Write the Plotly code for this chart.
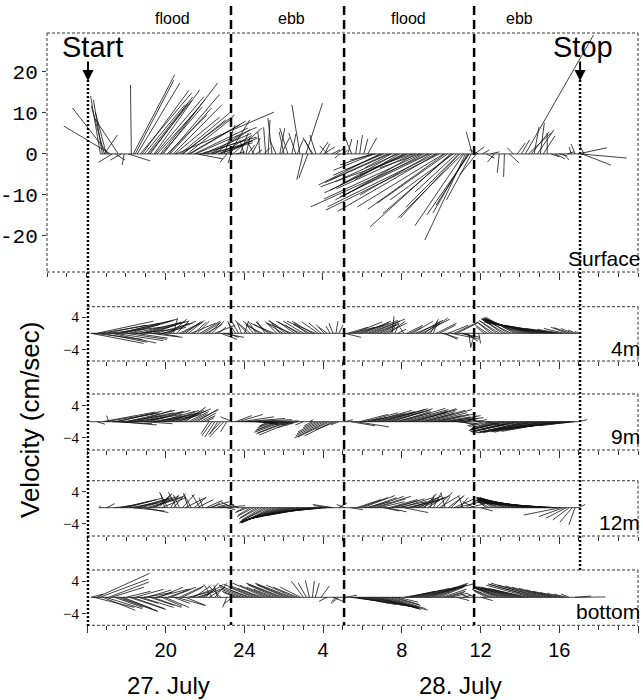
import plotly.graph_objects as go

W, H = 643, 700
K = 0.206  # time-axis hours per cm/s for the horizontal stick component

# ---------------- data (hours counted from 27 July 00:00) ----------------
surf_t = [16.71,16.81,16.91,17.01,17.11,17.22,16.91,17.32,17.47,17.62,17.77,17.92,18.13,18.28,
          18.38,18.58,18.73,18.94,19.09,19.24,19.44,19.59,19.75,19.90,20.10,20.25,20.41,20.56,20.76,20.91,
          21.11,21.27,21.47,21.62,21.77,21.97,22.13,22.33,22.48,22.68,22.84,22.99,23.14,23.24,23.34,23.44,23.59,
          23.80,24.00,24.20,24.41,24.61,24.81,25.01,25.22,25.42,25.62,25.82,26.03,26.23,26.43,26.63,26.84,
          26.99,27.14,27.24,27.44,27.65,27.85,28.05,28.25,28.46,28.66,28.86,29.06,
          29.27,29.47,29.67,29.87,30.08,30.28,30.48,30.68,30.89,31.09,31.29,31.49,31.70,31.90,32.10,32.30,
          32.51,32.71,32.91,33.11,33.32,33.52,33.72,33.92,34.13,34.33,34.48,34.63,34.78,34.94,35.09,35.24,
          35.34,35.44,35.54,35.59,35.70,35.80,35.90,
          36.10,36.30,36.51,36.71,36.96,37.22,37.47,37.67,37.87,38.08,38.28,38.43,38.58,38.73,38.89,39.04,
          39.19,39.39,39.59,39.80,40.00,40.20,40.41,40.61,40.81,40.96,41.06,41.16,41.27,
          18.48,18.83,19.17,19.50,19.83,20.18,20.50,20.84,21.20,21.55,21.90,22.40,22.75,23.05,
          30.60,31.00,31.40,31.80,32.20,32.60,33.00,33.40,33.80,34.20,34.55,34.90,35.15,35.40,
          24.10,24.50,25.10,25.90,26.70,27.50,28.10]
surf_u = [-2.4,-2.2,-3.2,-2.7,-8.8,-11.5,3.2,-3.4,2.4,-5.9,-2.7,-0.5,5.4,-0.2,
          10.2,10.5,12.7,10.0,11.2,9.3,11.2,9.8,11.0,13.4,9.8,10.2,12.0,24.1,12.2,10.5,
          11.2,12.2,13.2,6.3,13.9,10.0,11.2,7.1,8.8,6.6,9.0,2.7,-1.7,5.1,-0.7,7.1,2.2,
          2.0,-1.0,1.7,2.0,1.5,-0.5,1.5,0.5,-1.0,-1.5,1.2,-1.2,-2.0,1.0,-1.7,-2.0,
          -1.5,4.1,-2.2,-1.7,-1.5,2.0,2.7,-2.0,2.0,2.2,-1.2,1.0,
          1.0,-1.7,0.5,0.7,1.0,2.2,-7.8,-6.3,-15.1,-9.5,-14.1,-6.6,-13.7,-11.0,-18.0,-11.7,
          -22.4,-17.3,-9.8,-21.7,-28.8,-17.6,-26.6,-28.0,-21.2,-17.3,-19.8,-15.6,-10.2,-14.6,-15.9,-10.0,
          -8.5,-10.5,-6.1,-1.5,2.4,-4.1,-2.2,
          1.7,2.0,2.2,-1.7,-0.5,-0.2,2.4,-1.5,2.0,2.0,16.8,5.6,4.4,1.2,4.1,1.0,
          2.9,0.0,2.0,2.4,2.0,1.5,1.7,-0.5,-1.0,7.1,11.5,7.1,-1.2,
          9.5,11.5,10.5,12.0,10.0,12.5,11.0,13.0,14.0,15.0,12.0,10.0,8.0,6.0,
          -10.0,-12.0,-16.0,-15.5,-20.0,-19.0,-24.0,-22.0,-24.5,-19.0,-17.0,-13.0,-12.0,-8.0,
          1.0,-1.5,-0.5,2.0,1.5,-2.5,1.2]
surf_v = [14.1,13.2,11.7,10.2,11.2,6.8,4.6,-2.0,-1.5,8.8,-1.5,-2.7,-1.7,16.8,
          19.3,17.3,14.9,12.0,13.9,12.4,15.6,10.7,13.2,17.3,9.5,11.2,12.0,10.2,10.0,8.3,
          8.8,7.1,6.3,-1.2,4.1,3.4,2.7,4.6,5.9,2.2,3.9,7.1,-2.0,8.3,-2.2,6.3,0.5,
          5.1,3.4,2.2,3.9,1.0,5.4,1.5,8.3,8.8,3.4,6.3,5.4,6.3,4.9,5.1,12.0,
          -6.3,12.4,-5.9,3.4,4.6,2.9,1.7,2.0,1.0,1.5,-1.0,1.0,
          3.7,4.1,3.4,4.6,3.7,3.9,-2.7,-1.5,-7.6,-3.9,-6.3,-3.4,-7.6,-6.3,-8.8,-5.1,
          -8.0,-10.0,-3.4,-11.2,-12.9,-10.0,-12.9,-13.7,-12.9,-12.0,-17.8,-11.2,-9.3,-15.6,-15.6,-21.0,
          -14.4,-14.9,-11.2,5.4,1.7,-5.1,1.0,
          1.0,-1.0,0.5,-2.0,-4.6,-5.6,-2.2,1.5,2.7,3.4,29.0,5.1,5.4,6.6,5.9,7.6,
          4.4,5.1,-0.7,-1.2,-0.5,-1.5,0.5,1.7,2.4,1.5,-1.0,-2.7,2.2,
          18.0,15.5,13.0,14.0,11.5,14.5,9.0,9.5,8.0,6.5,5.0,3.2,4.5,3.0,
          -4.0,-5.2,-7.0,-6.8,-9.5,-8.5,-11.0,-10.5,-14.0,-13.5,-14.5,-13.0,-17.5,-12.5,
          4.0,2.8,6.5,4.0,3.5,4.0,2.5]

m4_t = [16.2,16.5,16.8,17.1,17.4,17.7,18.0,18.3,18.6,18.9,19.2,19.5,19.8,20.1,20.4,20.7,21.0,21.3,21.6,21.9,22.2,22.5,22.8,23.1,
        23.4,23.7,24.0,24.3,24.6,24.9,25.2,25.5,25.8,26.1,26.4,26.7,27.0,27.3,27.6,27.9,28.2,28.5,28.8,
        29.1,29.4,29.7,30.0,30.3,30.6,30.9,31.2,31.5,31.8,32.1,32.4,32.7,33.0,33.3,33.6,33.9,34.2,34.5,34.8,35.1,35.4,
        35.7,35.9,36.2,36.5,36.8,37.1,37.4,37.7,38.0,38.3,38.6,38.9,39.2,39.5,39.8,40.1,40.4,40.7,41.0,
        16.35,16.65,16.95,17.25,17.55,17.85,18.15,18.45,18.75,19.05,19.35,19.65,19.95,20.25,20.55,20.85,21.15,21.45,21.75,22.05,22.35,22.65,22.95,
        23.55,23.85,24.15,24.45,24.75,25.05,25.35,25.65,25.95,26.25,26.55,26.85,27.15,27.45,27.75,28.05,28.35,28.65,
        29.25,29.55,29.85,30.15,30.45,30.75,31.05,31.35,31.65,32.25,32.55,32.85,33.15,33.45,33.75,34.05,34.35,34.65,34.95,35.25,
        36.35,36.65,36.95,37.25,37.55,37.85,38.15,38.45,38.75,39.05,39.35,39.65,39.95,40.25,40.55,40.85]
m4_u = [13,14,11,13,12,14,10,12,9,11,8,9,6,7,1,5,4,6,3,4,3,5,4,3,
        -1,-2,1,-3,-2,-4,-3,-5,-2,-4,-6,-3,-5,-4,-7,-3,-2,-1,1,
        4,6,8,7,9,6,4,5,0.5,2,-1,3,6,7,5,1,4,3,6,5,4,0.5,
        -1,0.5,-2,-3,-4,-5,-6,-7,-9,-10,-12,-13,-14,-13,-11,-6,-4,-3,-1,
        12,15,10,11,13,9,11,8,10,7,8,5,6,4,3,5,4,3,5,4,3,2,5,
        -2,-1,-3,-2,-4,-2,-5,-3,-4,-5,-4,-6,-3,-5,-4,-2,-1,0.5,
        5,7,6,8,7,5,3,4,1,4,5,6,4,2,5,4,5,6,5,3,
        -3,-4,-5,-6,-7,-8,-10,-11,-12,-14,-13,-12,-8,-5,-4,-2]
m4_v = [-2.5,3,-2.2,1.5,-1.8,3.5,-1.5,2.5,1,3,-1,2.5,1.5,3.0,3.8,2.5,3,2.5,3,2.5,2.8,2,-1.5,-1,
        2.5,3.5,3,2.5,3,2,2.8,2.2,2.5,3,2.5,2,3,2.2,3,2.5,1.5,2.5,2,
        -1,1.5,2.5,3,3.5,2.5,2,2.5,4.2,1,1.5,1.5,2.5,3.5,3.8,3,2,-1.5,-1.2,2.5,-1.5,-3.5,
        -3.5,-2.5,1.5,2.5,3,3.5,3.8,4,3.8,3.5,3.3,3.0,2.6,2.2,1.6,1.0,1.5,1.2,0.5,
        -1.5,2.5,2,-2.4,3,2.2,3.2,-1.2,2.8,2,3,-0.8,2.5,3.5,3,2.8,3.2,2.8,3,2.2,3,1.5,-1,
        3,2.5,3.2,2.5,3,3,2.5,3,2.5,3.2,2.8,3,2.5,3,2.8,2.2,1.8,3,
        1.5,2.8,2,3.2,3,2.2,1.5,3,2.5,2,3,3.2,3,3.5,2.5,-1.2,2,2.8,-1,-2,
        2,2.8,3.2,3.6,3.6,3.8,3.6,3.4,3,2.8,2.4,2,1.2,1.2,1.4,0.8]

m9_t = [16.2,16.5,16.8,17.1,17.4,17.7,18.0,18.3,18.6,18.9,19.2,19.5,19.8,20.1,20.4,20.7,21.0,21.3,21.6,21.9,22.2,22.5,22.8,23.1,
        23.4,23.7,24.0,24.3,24.6,24.9,25.2,25.5,25.8,26.1,26.4,26.7,27.0,27.3,27.6,27.9,28.2,28.5,28.8,
        29.1,29.4,29.7,30.0,30.3,30.6,30.9,31.2,31.5,31.8,32.1,32.4,32.7,33.0,33.3,33.6,33.9,34.2,34.5,34.8,35.1,35.4,
        35.7,36.0,36.3,36.6,36.9,37.2,37.5,37.8,38.1,38.4,38.7,39.0,39.3,39.6,39.9,40.2,40.5,40.8,41.0,
        16.95,17.25,17.55,17.85,18.15,18.45,18.75,19.05,19.35,19.65,19.95,20.25,20.55,20.85,21.15,21.45,21.75,22.05,22.35,22.65,22.95,
        23.55,23.85,24.15,24.45,24.75,25.05,25.35,25.65,25.95,26.25,27.45,27.75,28.05,28.35,28.65,
        29.85,30.15,30.45,30.75,31.05,31.35,31.65,31.95,32.25,32.55,32.85,33.15,33.45,33.75,34.05,34.35,34.65,34.95,35.25,
        36.15,36.45,36.75,37.05,37.35,37.65,37.95,38.25,38.55,38.85,39.15,39.45,39.75,40.05,40.35,40.65]
m9_u = [-2,2,13,-0.5,11,9,12,8,11,7,10,6,9,7,8,6,5,4,5,3,-2,-2.5,-3,-1.5,
        -3,6,10,12,9,4,-2,-4,-6,-7,-8,-5,-2,1,-3,-6,-8,-7,-2,
        2,6,8,6,9,10,11,9,10,8,11,9,10,8,11,7,9,6,8,5,3,2,
        3,-3,4,-5,-7,-6,-9,-11,-10,-13,-12,-14,-13,-15,-12,-14,-10,-6,2,
        12,10,11,10,11,9,10,9,8,9,8,7,6,7,5,6,4,2,-2.5,-2,-3.5,
        4,8,11,10,7,2,-3,-5,-7,-8,-2,-5,-7,-8,-5,
        7,8,10,9,11,10,9,11,10,11,9,10,9,8,7,8,6,4,2,
        -4,-5,-6,-8,-9,-10,-12,-11,-13,-14,-12,-14,-13,-15,-12,-8]
m9_v = [0.5,-0.6,2.4,1.5,2.2,-0.8,2.8,1,2.5,-0.5,2.8,1,2.2,1.5,2.6,2.8,3.6,2,3,1.5,-3,-3.8,-3.3,-2.5,
        1.2,1.8,0.8,0.2,-0.5,-0.8,-1,-1.5,-2.2,-2.8,-3.3,-1.5,-0.8,0.5,-1.5,-3,-4,-3.5,-0.8,
        0.5,-1,-1.3,1,2,2.5,3,2.5,3.2,2.5,3,2.2,3.2,2,3,1.5,2,0.8,1,-0.5,0.5,1.5,
        0.5,0.8,-1,-1.5,-2,-1.5,-2.3,-2.5,-2,-2.8,-2.5,-2.7,-2.3,-2.5,-2,-1.8,-1.2,-0.6,0.5,
        2,-0.5,2.6,1.5,2.2,2.8,1.8,2.5,1.5,2.6,2,2.8,1.8,3.2,2.5,3,2.2,1,-3.5,-3,-3.8,
        1.5,1.2,0.5,-0.2,-0.8,-0.5,-1.2,-2,-2.6,-3,-1,-2.5,-3.5,-3.8,-2,
        1.8,2.2,2.8,2.2,3.2,2.8,2.2,3.3,2.6,3,2.5,2.8,2.2,1.8,1.2,1.5,0.8,-0.8,1,
        -1,-1.2,-1.8,-2.2,-2,-2.6,-2.4,-2.6,-2.8,-2.5,-2.6,-2.2,-2.4,-2,-1.5,-1]

m12_t = [16.6,17.0,17.4,17.7,18.0,18.3,18.6,18.9,19.2,19.5,19.8,20.1,20.4,20.7,21.0,21.3,21.6,21.9,22.2,22.5,22.8,23.1,
         23.4,23.7,24.0,24.3,24.6,24.9,25.2,25.5,25.8,26.1,26.4,26.7,27.0,27.3,27.6,27.9,28.2,28.5,28.8,
         29.1,29.4,29.7,30.0,30.3,30.6,30.9,31.2,31.5,31.8,32.1,32.4,32.7,33.0,33.3,33.6,33.9,34.2,34.5,34.8,35.1,35.4,
         35.7,36.0,36.3,36.6,36.9,37.2,37.5,37.8,38.1,38.4,38.7,39.0,39.3,39.6,39.9,40.2,40.5,40.8,41.0,
         17.85,18.15,18.45,18.75,19.05,19.35,19.65,19.95,20.25,20.55,20.85,21.15,21.45,21.75,22.05,22.35,22.65,
         24.15,24.45,24.75,25.05,25.35,25.65,25.95,26.25,26.55,26.85,27.15,27.45,27.75,28.05,28.35,
         29.85,30.15,30.45,30.75,31.05,31.35,31.65,31.95,32.25,32.55,32.85,33.15,33.45,33.75,34.05,34.35,34.65,34.95,35.25,
         36.45,36.75,37.05,37.35,37.65,37.95,38.25,38.55,38.85,39.15,39.45,39.75,40.05,40.35,40.65]
m12_u = [0.5,2,4,7,9,8,10,6,8,4,6,-2,3,-1.5,5,-2,4,-1,5,3,6,2,
         -3,-2,-2,-3,-4,-5,-7,-8,-10,-11,-12,-12,-11,-10,-9,-7,-5,-5,2,
         -2,3,6,8,7,9,6,5,8,7,6,9,6,7,4,2,5,-1,3,6,-1,4,
         -3,3,-2,-3,-5,-6,-8,-9,-11,-12,-14,-15,-17,-18,-14,-6,-4,-1.5,1.5,
         8,7,9,7,9,5,3,-1,2,-2,3,-1,3,-2,4,2,4,
         -3,-4,-5,-6,-7,-9,-10,-11,-12,-11,-10,-9,-8,-6,-4,
         7,6,8,7,4,7,6,8,5,7,5,3,1,4,2,4,5,2,3,
         -3,-4,-6,-7,-9,-10,-12,-13,-15,-16,-17,-16,-9,-5,-3]
m12_v = [0.5,1,0.5,1.5,2.4,-0.8,2.8,-1.2,2.5,3.5,2.5,3.8,3.5,3.2,2.5,3.6,2,2.5,1.5,0.8,0.5,-0.5,
         1.5,0.8,-1,-1.8,-2.5,-3.0,-3.5,-3.8,-3.8,-3.5,-3.2,-2.8,-2.2,-1.8,-1.2,-0.8,-0.4,0.8,1.2,
         0.8,-0.5,2,3,2.5,2.8,1.5,-1,2.2,1.5,-1.2,2.5,2,3,2.5,3.8,3,3.5,2.8,1.5,2.8,1,
         1.5,-0.8,1.5,2,2.2,2.5,2.3,2.5,2.3,2.2,2,1.8,1.6,1.3,0.8,-2.2,-3,-4.2,0.8,
         2,1.2,2.5,2,2.8,2.2,3.2,3.5,3.2,3.8,3.3,3,2.6,3.2,1.8,1.2,0.8,
         -1.2,-2.2,-2.8,-3.4,-3.6,-3.6,-3.4,-3.2,-3,-2.5,-2,-1.5,-1,-0.6,0.5,
         2.5,1.5,2.8,2.2,-0.8,2,1.8,2.5,1.2,2.8,2.5,3.5,3.2,3.8,2.8,3,2.2,2.5,2,
         1.8,2.2,2.4,2.2,2.6,2.2,2.4,2,1.9,1.5,1.2,1,-1.8,-2.6,-3.6]

bot_t = [16.2,16.5,16.8,17.1,17.4,17.7,18.0,18.3,18.6,18.9,19.2,19.5,19.8,20.1,20.4,20.7,21.0,21.3,21.6,21.9,22.2,22.5,22.8,23.1,
         23.4,23.7,24.0,24.3,24.6,24.9,25.2,25.5,25.8,26.1,26.4,26.7,27.0,27.3,27.6,27.9,28.2,28.5,28.8,
         29.1,29.4,29.7,30.0,30.3,30.6,30.9,31.2,31.5,31.8,32.1,32.4,32.7,33.0,33.3,33.6,33.9,34.2,34.5,34.8,35.1,35.4,
         35.7,36.0,36.3,36.6,36.9,37.2,37.5,37.8,38.1,38.4,38.7,39.0,39.3,39.6,39.9,40.2,40.5,40.8,41.1,
         16.35,16.65,16.95,17.25,17.55,17.85,18.15,18.45,18.75,19.05,19.35,19.65,19.95,20.25,20.55,20.85,21.15,21.45,21.75,22.05,22.35,22.65,
         23.55,23.85,24.15,24.45,24.75,25.05,25.35,25.65,25.95,26.25,26.55,26.85,27.15,27.45,28.65,
         29.55,29.85,30.15,30.45,30.75,31.05,31.35,31.65,32.25,32.55,32.85,33.15,33.45,33.75,34.05,34.35,
         36.45,36.75,37.05,37.35,37.65,37.95,38.25,38.55,38.85,39.15,39.45,39.75,40.05,40.35]
bot_u = [3,13,8,10,7,9,6,8,5,7,6,8,5,7,4,6,5,6,3,5,4,3,-3,-1,
         -2,-4,-6,-5,-8,-6,-7,-5,-8,-7,-9,-6,-3,-1,1,2,-2,3,-2,
         3,6,8,10,12,11,10,8,7,5,6,8,10,11,10,8,6,5,4,3,2,-2,
         -2,3,-3,-5,-6,-7,-9,-8,-10,-9,-11,-12,-10,-8,-6,-4,-2,4,6,
         10,12,9,8,10,7,9,7,8,6,7,6,6,5,7,5,6,4,5,3,-2,-1,
         -3,-5,-7,-6,-7,-8,-6,-7,-9,-8,-7,-5,-2,0.5,-1,
         7,9,11,12,10,11,9,6,7,9,11,12,9,7,6,4,
         -4,-5,-7,-8,-9,-10,-9,-11,-12,-11,-9,-7,-5,-3]
bot_v = [0.8,5.9,-3.2,3.8,-2.5,-3.3,1.5,-2.8,-1.5,1.2,-2,2,-2.2,2.5,-1.5,2.8,-2,2.2,1,3.2,2.5,3.5,2.8,-2.5,
         -1.5,1.5,2.5,1.8,3.2,2.2,3,2,3.3,3,3.5,2.5,4,4.2,3.5,2.8,-1,-1.2,-1.5,
         0.5,-0.8,-1.5,-2,-2.5,-2.8,-3,-2.5,-2,-1.2,1,1.8,2.5,3,3.5,3,2.5,1.5,1,-0.8,0.5,0.8,
         1,-0.8,1.5,2,2.5,2.2,2.8,2.2,2.5,2,3.2,3.5,2.8,2.2,1.5,1,0.8,0.3,0.1,
         -2.5,4.5,-2.8,2.5,-3.5,-2.8,-3,2,-2.5,1.8,-2.5,2.5,-2.5,2,-2,2.5,1.5,2.8,2,3.5,3.2,3,
         1.2,2,3,2.5,2.8,3.5,2.5,3,3.5,3.2,3,2.5,3.5,4,-1,
         -1,-1.8,-2.3,-2.7,-2.6,-3.2,-2.8,-1.8,1.5,2.2,2.8,3.3,3.2,2.8,2,1.2,
         1.8,2.2,2.6,2.5,2.5,2.6,2.2,3,3.3,3,2.5,1.8,1.2,0.8]

depth_labels = ["Surface", "4m", "9m", "12m", "bottom"]
tide_change_hours = [23.34, 29.08, 35.68]
tide_labels = ["flood", "ebb", "flood", "ebb"]
tide_label_hours = [20.35, 26.4, 32.33, 38.0]
start_hour, stop_hour = 16.08, 41.06
x_tickvals = [16, 20, 24, 28, 32, 36, 40, 44]
x_ticktext = ["", "20", "24", "4", "8", "12", "16", ""]
surf_yticks = [-20, -10, 0, 10, 20]
surf_yticktext = ["-20", "-10", "0", "10", "20"]
low_yticks = [-4, 4]
low_yticktext = ["\u22124", "4"]
day_labels = ["27. July", "28. July"]

# ---------------- layout geometry (pixels) ----------------
def px(x):
    return x / W

def py(y):
    return 1 - y / H

panels = [
    # (t, u, v, x-left px, top px, bottom px, yrange, label y px)
    (surf_t, surf_u, surf_v, 47, 33, 272, [-28.8, 29.5], 258),
    (m4_t, m4_u, m4_v, 87, 306.7, 361, [-6.84, 6.57], 348),
    (m9_t, m9_u, m9_v, 87, 394, 450, [-6.99, 6.84], 436),
    (m12_t, m12_u, m12_v, 87, 480.7, 536, [-6.99, 6.67], 522),
    (bot_t, bot_u, bot_v, 87, 570, 625.3, [-6.91, 6.74], 611),
]
RIGHT = 638
SANS = "Liberation Sans, Arial"

fig = go.Figure()
layout = dict(width=W, height=H, margin=dict(l=0, r=0, t=0, b=0),
              paper_bgcolor="white", plot_bgcolor="white", showlegend=False)
shapes, annotations = [], []
box_line = dict(color="#333", width=1, dash="3px,2px")

for i, (t, u, v, xl, top, bot, yr, ly) in enumerate(panels):
    n = "" if i == 0 else str(i + 1)
    xs, ys = [], []
    for ti, ui, vi in zip(t, u, v):
        xs += [ti, ti + K * ui, None]
        ys += [0, vi, None]
    fig.add_trace(go.Scatter(x=xs, y=ys, mode="lines", xaxis="x" + n, yaxis="y" + n,
                             line=dict(color="#111", width=0.8), hoverinfo="skip"))
    fig.add_trace(go.Scatter(x=[min(t), max(t)], y=[0, 0], mode="lines", xaxis="x" + n, yaxis="y" + n,
                             line=dict(color="#111", width=0.8), hoverinfo="skip"))
    xr = [14, 44] if i == 0 else [16, 44]
    last = i == len(panels) - 1
    layout["xaxis" + n] = dict(
        domain=[px(xl), px(RIGHT)], range=xr, anchor="y" + n,
        showgrid=False, zeroline=False, showline=False,
        tickmode="array", tickvals=x_tickvals, ticktext=x_ticktext,
        ticks="outside", ticklen=7, tickwidth=1, tickcolor="#333",
        minor=dict(tickmode="linear", tick0=0, dtick=1, ticks="outside", ticklen=4, tickcolor="#333"),
        showticklabels=last, tickfont=dict(family=SANS, size=20, color="black"),
    )
    if i == 0:
        ytick = dict(tickvals=surf_yticks, ticktext=surf_yticktext,
                     tickfont=dict(family="Liberation Mono", size=21, color="black"))
    else:
        ytick = dict(tickvals=low_yticks, ticktext=low_yticktext,
                     tickfont=dict(family="Liberation Serif", size=15, color="black"))
    layout["yaxis" + n] = dict(
        domain=[py(bot), py(top)], range=yr, anchor="x" + n,
        showgrid=False, zeroline=False, showline=False,
        tickmode="array", ticks="outside", ticklen=4, tickcolor="#333", **ytick,
    )
    # box edges
    shapes.append(dict(type="line", xref="paper", yref="paper", x0=px(xl), x1=px(RIGHT),
                       y0=py(top), y1=py(top), line=box_line))
    shapes.append(dict(type="line", xref="paper", yref="paper", x0=px(xl), x1=px(RIGHT),
                       y0=py(bot), y1=py(bot), line=box_line))
    shapes.append(dict(type="line", xref="paper", yref="paper", x0=px(RIGHT), x1=px(RIGHT),
                       y0=py(top), y1=py(bot), line=box_line))
    if i == 0:
        shapes.append(dict(type="line", xref="paper", yref="paper", x0=px(xl), x1=px(xl),
                           y0=py(top), y1=py(bot), line=box_line))
    annotations.append(dict(text=depth_labels[i], x=px(641), y=py(ly), xref="paper", yref="paper",
                            xanchor="right", yanchor="middle", showarrow=False, borderpad=0,
                            font=dict(family=SANS, size=21, color="black")))

# tide change dashed lines
for h in tide_change_hours:
    shapes.append(dict(type="line", xref="x", yref="paper", x0=h, x1=h, y0=py(6), y1=py(625),
                       line=dict(color="black", width=2.5, dash="9px,5px")))
# start / stop dotted lines
shapes.append(dict(type="line", xref="x", yref="paper", x0=start_hour, x1=start_hour,
                   y0=py(80), y1=py(628), line=dict(color="black", width=2.5, dash="2px,2px")))
shapes.append(dict(type="line", xref="x", yref="paper", x0=stop_hour, x1=stop_hour,
                   y0=py(80), y1=py(570), line=dict(color="black", width=2.5, dash="2px,2px")))

for lab, h in zip(tide_labels, tide_label_hours):
    annotations.append(dict(text=lab, x=h, xref="x", y=py(19), yref="paper", showarrow=False,
                            xanchor="center", yanchor="middle",
                            font=dict(family=SANS, size=16, color="black")))

for lab, h, cx in [("Start", start_hour, 92.5), ("Stop", stop_hour, 583)]:
    annotations.append(dict(text=lab, x=px(cx), y=py(47), xref="paper", yref="paper",
                            showarrow=False, xanchor="center", yanchor="middle",
                            font=dict(family=SANS, size=29, color="black")))
    annotations.append(dict(text="", x=h, xref="x", y=py(81), yref="paper", showarrow=True,
                            ax=0, ay=-21, arrowhead=2, arrowsize=1.1, arrowwidth=2, arrowcolor="black"))

annotations.append(dict(text="Velocity (cm/sec)", x=px(30), y=py(420), xref="paper", yref="paper",
                        textangle=-90, showarrow=False, xanchor="center", yanchor="middle",
                        font=dict(family=SANS, size=26, color="black")))
for lab, cx in zip(day_labels, [168, 460]):
    annotations.append(dict(text=lab, x=px(cx), y=py(685), xref="paper", yref="paper",
                            showarrow=False, xanchor="center", yanchor="middle",
                            font=dict(family=SANS, size=24, color="black")))

layout["shapes"] = shapes
layout["annotations"] = annotations
fig.update_layout(**layout)
fig.write_html("out.html", config={"displayModeBar": False, "staticPlot": True},
               post_script="document.body.style.margin='0';document.body.style.padding='0';"
                           "document.body.style.overflow='hidden';")
